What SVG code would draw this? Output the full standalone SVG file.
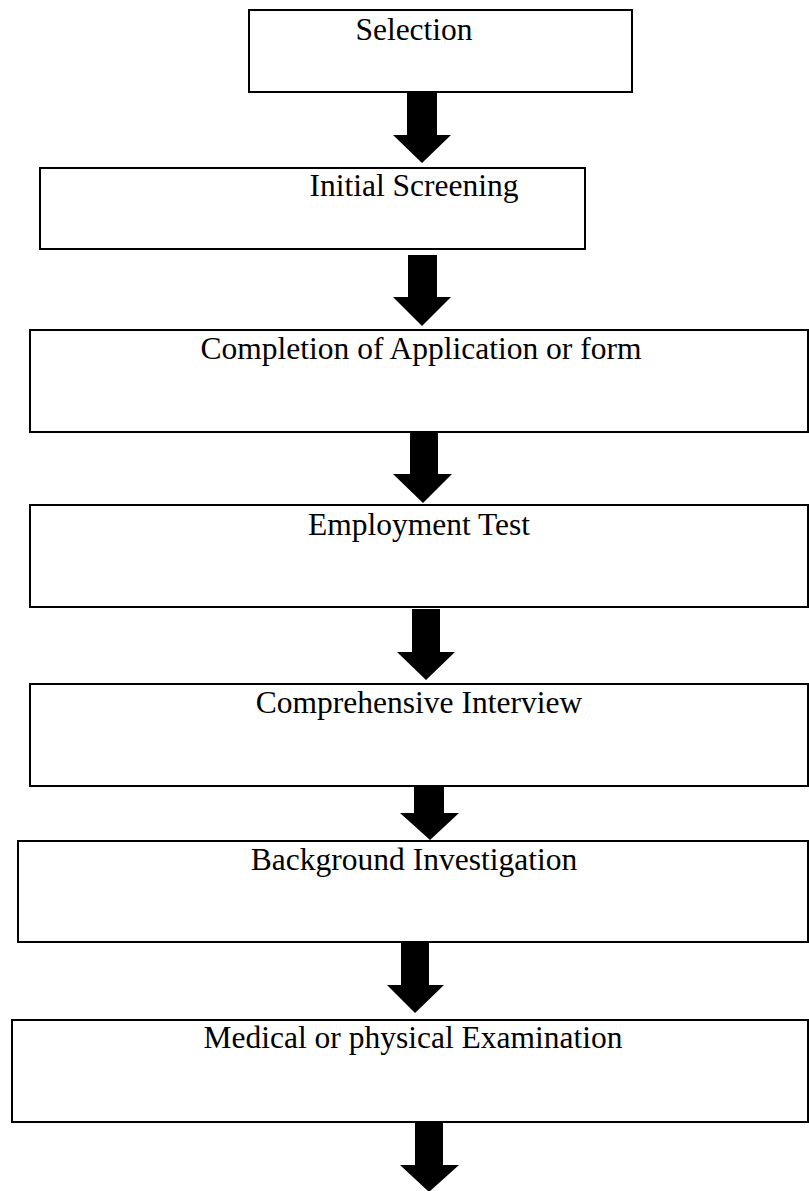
<svg xmlns="http://www.w3.org/2000/svg" width="809" height="1191" viewBox="0 0 809 1191">
  <style>
    .box { fill: #ffffff; stroke: #000000; stroke-width: 2; }
    .label { font-family: "Liberation Serif", "Times New Roman", serif; font-size: 31.5px; fill: #000000; text-anchor: middle; }
    .arrow { fill: #000000; stroke: none; }
  </style>
  <rect width="809" height="1191" fill="#ffffff"/>

  <!-- process steps -->
  <g id="node-selection">
    <rect class="box" x="249" y="10" width="383" height="82"/>
    <text class="label" x="414" y="40">Selection</text>
  </g>
  <g id="node-initial-screening">
    <rect class="box" x="40" y="168" width="545" height="81"/>
    <text class="label" x="414" y="196">Initial Screening</text>
  </g>
  <g id="node-application">
    <rect class="box" x="30" y="330" width="778" height="102"/>
    <text class="label" x="421" y="359">Completion of Application or form</text>
  </g>
  <g id="node-employment-test">
    <rect class="box" x="30" y="505" width="778" height="102"/>
    <text class="label" x="419" y="535">Employment Test</text>
  </g>
  <g id="node-interview">
    <rect class="box" x="30" y="684" width="778" height="102"/>
    <text class="label" x="419" y="713">Comprehensive Interview</text>
  </g>
  <g id="node-background">
    <rect class="box" x="18" y="841" width="790" height="101"/>
    <text class="label" x="414" y="870">Background Investigation</text>
  </g>
  <g id="node-medical">
    <rect class="box" x="12" y="1020" width="796" height="102"/>
    <text class="label" x="413" y="1048">Medical or physical Examination</text>
  </g>

  <!-- block arrows between steps -->
  <g id="connectors">
    <polygon class="arrow" points="407,92 437,92 437,135 451,135 422,163 393,135 407,135"/>
    <polygon class="arrow" points="408,255 437,255 437,297 451,297 422,326 393,297 408,297"/>
    <polygon class="arrow" points="410,432 438,432 438,474 452,474 423,503 393,474 410,474"/>
    <polygon class="arrow" points="412,609 440,609 440,652 455,652 426,680 397,652 412,652"/>
    <polygon class="arrow" points="414,786 444,786 444,813 459,813 430,840 400,813 414,813"/>
    <polygon class="arrow" points="401,942 429,942 429,985 444,985 415,1013 387,985 401,985"/>
    <polygon class="arrow" points="415,1122 443,1122 443,1165 459,1165 429,1192 400,1165 415,1165"/>
  </g>
</svg>
